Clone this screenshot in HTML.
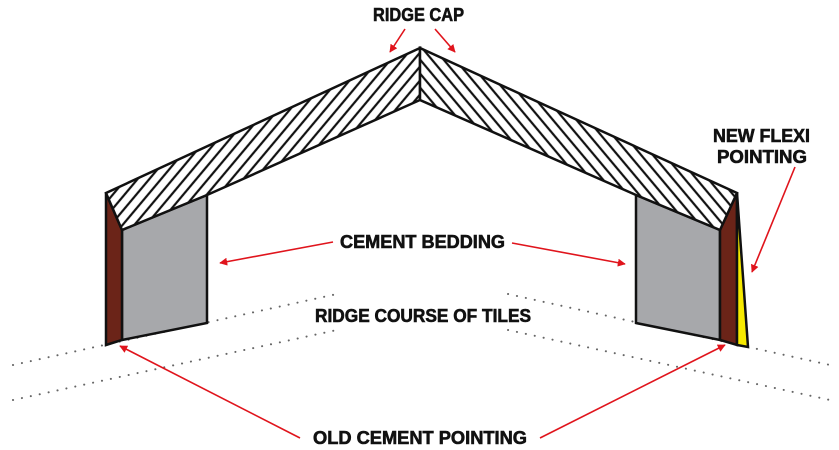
<!DOCTYPE html>
<html><head><style>html,body{margin:0;padding:0;background:#fff;width:839px;height:450px;overflow:hidden}</style></head>
<body>
<svg width="839" height="450" viewBox="0 0 839 450" xmlns="http://www.w3.org/2000/svg">
<defs>
<pattern id="hl" patternUnits="userSpaceOnUse" width="9" height="9" patternTransform="rotate(-50)">
<rect width="9" height="9" fill="#fff"/><line x1="0" y1="4.5" x2="9" y2="4.5" stroke="#111" stroke-width="2.2"/></pattern>
<pattern id="hr" patternUnits="userSpaceOnUse" width="9" height="9" patternTransform="rotate(50)">
<rect width="9" height="9" fill="#fff"/><line x1="0" y1="4.5" x2="9" y2="4.5" stroke="#111" stroke-width="2.2"/></pattern>
<marker id="ah" viewBox="0 0 10 10" refX="9" refY="5" markerWidth="8" markerHeight="8" orient="auto" markerUnits="userSpaceOnUse"><path d="M0,0L10,5L0,10z" fill="#e0141c"/></marker>
</defs>
<g stroke="#666" stroke-width="2" stroke-dasharray="0.1 9" stroke-linecap="round" fill="none">
<line x1="13" y1="365" x2="337" y2="294"/><line x1="13" y1="400" x2="337" y2="330"/>
<line x1="508" y1="294" x2="830" y2="365"/><line x1="508" y1="330" x2="830" y2="400"/>
</g>
<g stroke="#111" stroke-width="2.5" stroke-linejoin="miter">
<polygon points="122,230 207,195 207,323 122,340" fill="#a7a8ab"/>
<polygon points="106,193 122,230 122,340 106,345" fill="#6b2418"/>
<polygon points="720,230 636,195 636,323 720,340" fill="#a7a8ab"/>
<polygon points="737,193 720,230 720,340 737,345" fill="#6b2418"/>
<polygon points="737,193 748,347 737,345" fill="#f7ea00"/>
<polygon points="420,48 106,193 122,230 207,195 420,100" fill="url(#hl)"/>
<polygon points="420,48 737,193 720,230 636,195 420,100" fill="url(#hr)"/>
</g>
<g stroke="#e0141c" stroke-width="1.6" marker-end="url(#ah)" fill="none">
<line x1="405" y1="29" x2="390" y2="52"/><line x1="435" y1="29" x2="455" y2="52"/>
<line x1="333" y1="242" x2="220" y2="263"/><line x1="512" y1="243" x2="625" y2="264"/>
<line x1="795" y1="167" x2="752" y2="272"/>
<line x1="300" y1="438" x2="120" y2="346"/><line x1="540" y1="438" x2="725" y2="345"/>
</g>
<g font-family="Liberation Sans, sans-serif" font-weight="bold" font-size="18" fill="#111" stroke="#111" stroke-width="0.6">
<text x="373" y="21" textLength="91" lengthAdjust="spacingAndGlyphs">RIDGE CAP</text>
<text x="713" y="142" textLength="97" lengthAdjust="spacingAndGlyphs">NEW FLEXI</text>
<text x="717" y="163" textLength="90" lengthAdjust="spacingAndGlyphs">POINTING</text>
<text x="340" y="248" textLength="165" lengthAdjust="spacingAndGlyphs">CEMENT BEDDING</text>
<text x="315" y="322" textLength="216" lengthAdjust="spacingAndGlyphs">RIDGE COURSE OF TILES</text>
<text x="313" y="444" textLength="214" lengthAdjust="spacingAndGlyphs">OLD CEMENT POINTING</text>
</g>
</svg>
</body></html>
